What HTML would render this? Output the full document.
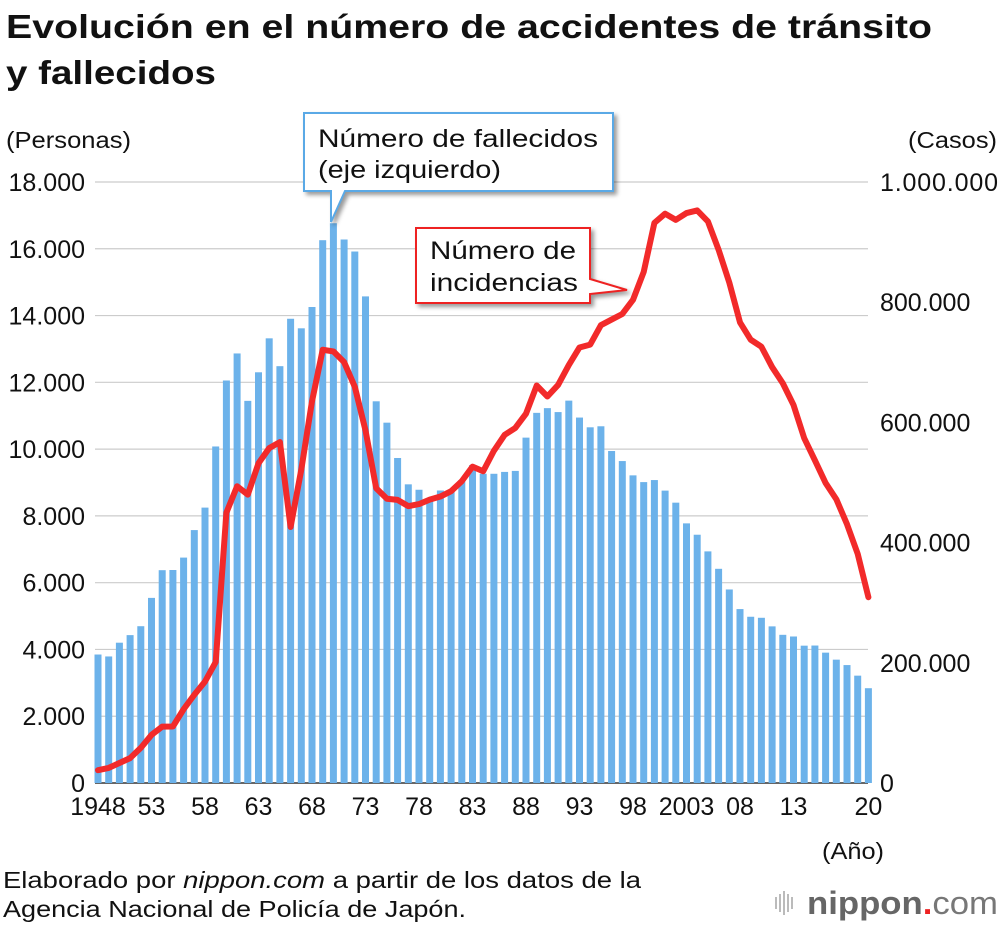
<!DOCTYPE html>
<html><head><meta charset="utf-8">
<style>
body{margin:0;background:#fff;font-family:"Liberation Sans",sans-serif;}
svg text{font-family:"Liberation Sans",sans-serif;}
</style></head>
<body>
<svg id="c" width="1000" height="926" viewBox="0 0 1000 926">
<text x="6" y="38" font-size="33" font-weight="bold" fill="#111" textLength="926" lengthAdjust="spacingAndGlyphs">Evolución en el número de accidentes de tránsito</text>
<text x="6" y="84" font-size="33" font-weight="bold" fill="#111" textLength="210" lengthAdjust="spacingAndGlyphs">y fallecidos</text>
<text x="6" y="148" font-size="23" fill="#111" textLength="125" lengthAdjust="spacingAndGlyphs">(Personas)</text>
<text x="908" y="148" font-size="23" fill="#111" textLength="89" lengthAdjust="spacingAndGlyphs">(Casos)</text>
<g id="grid"></g><g id="bars"></g><g id="line"></g><g id="ticks"></g>
<g>
<path d="M304,113 H613 V191 H345 L331,222 L331,191 H304 Z" fill="#fff" stroke="#5aa9e6" stroke-width="2" style="filter:drop-shadow(3px 3px 2px rgba(0,0,0,0.4))"/>
<text x="318" y="147" font-size="25" fill="#111" textLength="280" lengthAdjust="spacingAndGlyphs">Número de fallecidos</text>
<text x="318" y="178" font-size="25" fill="#111" textLength="183" lengthAdjust="spacingAndGlyphs">(eje izquierdo)</text>
</g>
<g>
<path d="M416,228 H590 V279 L627,290 L590,294 V303 H416 Z" fill="#fff" stroke="#ee2222" stroke-width="2" style="filter:drop-shadow(3px 3px 2px rgba(0,0,0,0.4))"/>
<text x="430" y="259" font-size="25" fill="#111" textLength="146" lengthAdjust="spacingAndGlyphs">Número de</text>
<text x="430" y="291" font-size="25" fill="#111" textLength="148" lengthAdjust="spacingAndGlyphs">incidencias</text>
</g>
<text x="822" y="859" font-size="23" fill="#111" textLength="62" lengthAdjust="spacingAndGlyphs">(Año)</text>
<text x="3" y="888" font-size="23" fill="#111" textLength="638" lengthAdjust="spacingAndGlyphs">Elaborado por <tspan font-style="italic">nippon.com</tspan> a partir de los datos de la</text>
<text x="3" y="917" font-size="23" fill="#111" textLength="463" lengthAdjust="spacingAndGlyphs">Agencia Nacional de Policía de Japón.</text>
<g>
<g fill="#bbb"><rect x="775" y="897" width="2" height="12"/><rect x="779" y="894" width="2" height="18"/><rect x="783" y="891" width="2" height="24"/><rect x="787" y="894" width="2" height="18"/><rect x="791" y="897" width="2" height="12"/></g>
<text x="807" y="914" font-size="32" font-weight="bold" fill="#666" textLength="191" lengthAdjust="spacingAndGlyphs">nippon<tspan fill="#e22">.</tspan><tspan font-weight="normal" fill="#777">com</tspan></text>
</g>
</svg>
<script>
const years=[];for(let y=1948;y<=2020;y++)years.push(y);
const deaths=[3848,3790,4202,4429,4696,5544,6374,6379,6751,7575,8248,10079,12055,12865,11445,12301,13318,12484,13904,13618,14256,16257,16765,16278,15918,14574,11432,10792,9734,8945,8783,8466,8760,8719,9073,9520,9262,9261,9317,9347,10344,11086,11227,11109,11452,10945,10653,10684,9943,9642,9214,9012,9073,8757,8396,7776,7436,6937,6415,5796,5209,4979,4948,4691,4438,4388,4113,4117,3904,3694,3532,3215,2839];
const incidents=[21341,25113,33212,41423,58487,80019,93869,93981,122691,146833,168799,201292,449917,493693,479825,531966,557183,567286,425944,521481,635056,720880,718080,700290,659283,586713,490452,472938,471041,460649,464037,471573,476677,485578,502261,526362,518642,552788,579190,590723,614481,661363,643097,662388,695345,724675,729461,761794,771085,780401,803882,850371,931950,947253,936950,948281,952720,934346,887267,832704,766394,737628,725924,692084,665157,629033,573842,536899,499201,472165,430601,381237,309178];
const leftTicks=[0,2000,4000,6000,8000,10000,12000,14000,16000,18000];
const rightTicks=[0,200000,400000,600000,800000,1000000];
const xLabels=["1948","53","58","63","68","73","78","83","88","93","98","2003","08","13","20"];
const xLabelYears=[1948,1953,1958,1963,1968,1973,1978,1983,1988,1993,1998,2003,2008,2013,2020];
const NS="http://www.w3.org/2000/svg";
const x=y=>98+(y-1948)*10.7;
const yL=v=>783-v/18000*601;
const yR=v=>783-v/1000000*601;
function mk(t,a,p){const e=document.createElementNS(NS,t);for(const k in a)e.setAttribute(k,a[k]);p.appendChild(e);return e;}
const grid=document.getElementById('grid'),bars=document.getElementById('bars'),line=document.getElementById('line'),ticks=document.getElementById('ticks');
const FS=25;
leftTicks.forEach(v=>{
 const l=mk('line',{x1:95,x2:868,y1:yL(v),y2:yL(v),stroke:v===0?'#333':'#ccc','stroke-width':v===0?1.5:1.2},grid);
 
 
 const t=mk('text',{x:85,y:yL(v)+9,'font-size':FS,'text-anchor':'end',fill:'#111'},ticks);t.textContent=v.toLocaleString('de-DE');
 
 
});
rightTicks.forEach(v=>{
 const s=v.toLocaleString('de-DE');
 const t=mk('text',{x:880,y:yR(v)+9,'font-size':FS,fill:'#111'},ticks);t.textContent=s;
 if(s.length>7)t.setAttribute('textLength',118);
 
 
});
xLabels.forEach((s,i)=>{
 const t=mk('text',{x:x(xLabelYears[i]),y:815,'font-size':FS,'text-anchor':'middle',fill:'#111'},ticks);t.textContent=s;
 
 
});
deaths.forEach((v,i)=>{
 const r=mk('rect',{x:x(years[i])-3.5,y:yL(v),width:7,height:783-yL(v),fill:'#6cb2ea'},bars);
 
 
});
const p=mk('polyline',{points:incidents.map((v,i)=>x(years[i])+','+yR(v)).join(' '),fill:'none',stroke:'#f22a2a','stroke-width':6,'stroke-linejoin':'round','stroke-linecap':'round'},line);


</script>
</body></html>
